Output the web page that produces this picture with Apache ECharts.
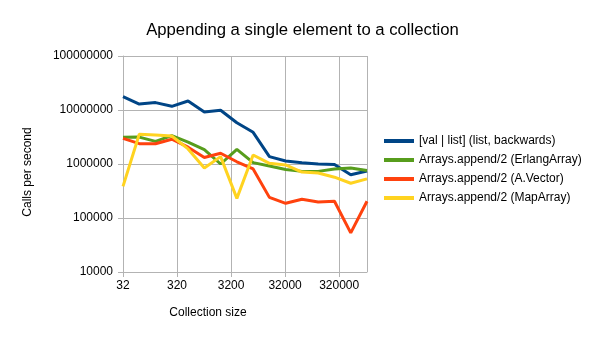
<!DOCTYPE html>
<html>
<head>
<meta charset="utf-8">
<script src="https://cdn.jsdelivr.net/npm/echarts@6/dist/echarts.min.js"></script>
<style>
  html, body { margin: 0; padding: 0; background: #fff; }
  #chart { width: 605px; height: 340px; }
</style>
</head>
<body>
<div id="chart"></div>
<script>
// collection sizes, doubling from 32 to 2^20
const sizes = [32, 64, 128, 256, 512, 1024, 2048, 4096, 8192, 16384, 32768,
  65536, 131072, 262144, 524288, 1048576];

const seriesNames = [
  '[val | list] (list, backwards)',
  'Arrays.append/2 (ErlangArray)',
  'Arrays.append/2 (A.Vector)',
  'Arrays.append/2 (MapArray)',
];

const listBackwards = [17700000, 12900000, 13700000, 11700000, 14700000, 9200000,
  9900000, 5800000, 3860000, 1370000, 1140000, 1060000, 1000000, 980000, 630000, 740000];
const erlangArray = [3120000, 3150000, 2620000, 3350000, 2550000, 1850000,
  1000000, 1870000, 1060000, 920000, 790000, 730000, 730000, 810000, 840000, 760000];
const aVector = [2990000, 2380000, 2370000, 2880000, 2050000, 1320000,
  1580000, 1100000, 810000, 241000, 187000, 222000, 198000, 204000, 53000, 204000];
const mapArray = [385000, 3550000, 3450000, 3300000, 1900000, 840000,
  1370000, 231000, 1470000, 1030000, 960000, 710000, 680000, 570000, 440000, 530000];

const colors = ['#004586', '#579d1c', '#ff420e', '#ffd320'];
const font = 'Liberation Sans, Arial, sans-serif';
const gridColor = '#b3b3b3';

// x is placed on a log scale: position = log2(size / 32), ticks every decade
const toX = s => Math.log2(s / sizes[0]);
const pairs = vals => vals.map((v, i) => [toX(sizes[i]), v]);

const chart = echarts.init(document.getElementById('chart'));
chart.setOption({
  animation: false,
  backgroundColor: '#fff',
  color: colors,
  textStyle: { fontFamily: font },
  title: {
    text: 'Appending a single element to a collection',
    left: 'center',
    top: 17,
    textStyle: { fontFamily: font, fontSize: 16.7, fontWeight: 'normal', color: '#000' },
  },
  legend: {
    orient: 'vertical',
    left: 384,
    top: 134,
    padding: 0,
    icon: 'rect',
    itemWidth: 30,
    itemHeight: 4,
    itemGap: 5,
    textStyle: { fontFamily: font, fontSize: 12, color: '#000', lineHeight: 14 },
    data: seriesNames,
  },
  grid: { left: 123, right: 238, top: 56, bottom: 68 },
  xAxis: {
    type: 'value',
    min: 0,
    max: toX(sizes[sizes.length - 1]),
    interval: Math.log2(10),
    axisLine: { show: true, lineStyle: { color: gridColor } },
    axisTick: { show: true, length: 5, lineStyle: { color: gridColor } },
    splitLine: { show: true, lineStyle: { color: gridColor } },
    axisLabel: {
      color: '#000', fontSize: 12, fontFamily: font, margin: 8,
      showMaxLabel: false,
      formatter: v => (v > 14 ? '' : String(Math.round(sizes[0] * Math.pow(2, v)))),
    },
  },
  yAxis: {
    type: 'log',
    logBase: 10,
    min: 10000,
    max: 100000000,
    axisLine: { show: true, lineStyle: { color: gridColor } },
    axisTick: { show: true, length: 5, lineStyle: { color: gridColor } },
    splitLine: { show: true, lineStyle: { color: gridColor } },
    axisLabel: {
      color: '#000', fontSize: 12, fontFamily: font, margin: 10,
      formatter: v => String(Math.round(v)),
    },
  },
  graphic: [
    {
      type: 'text', x: 28, y: 172, rotation: Math.PI / 2,
      style: { text: 'Calls per second', fontFamily: font, fontSize: 12, fill: '#000',
        align: 'center', verticalAlign: 'middle' },
    },
    {
      type: 'text', x: 208, y: 313,
      style: { text: 'Collection size', fontFamily: font, fontSize: 12, fill: '#000',
        align: 'center', verticalAlign: 'middle' },
    },
  ],
  series: [listBackwards, erlangArray, aVector, mapArray].map((vals, i) => ({
    name: seriesNames[i],
    type: 'line',
    symbol: 'none',
    lineStyle: { width: 3, color: colors[i] },
    itemStyle: { color: colors[i] },
    data: pairs(vals),
  })),
});
</script>
</body>
</html>
